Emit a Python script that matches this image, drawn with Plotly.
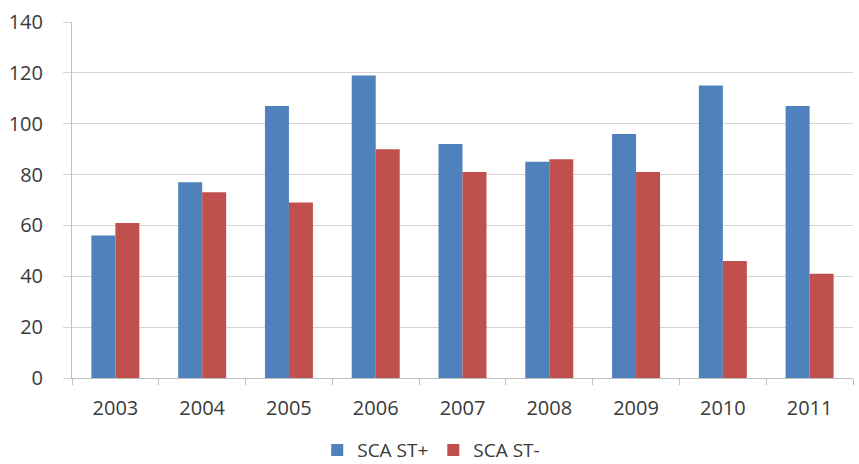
import plotly.graph_objects as go

# Yearly counts for the two groups
years = ["2003", "2004", "2005", "2006", "2007", "2008", "2009", "2010", "2011"]
sca_st_plus = [56, 77, 107, 119, 92, 85, 96, 115, 107]
sca_st_minus = [61, 73, 69, 90, 81, 86, 81, 46, 41]
y_ticks = [0, 20, 40, 60, 80, 100, 120, 140]

BLUE = "#4F81BD"
RED = "#C0504D"
TEXT = "#3A3A3A"
GRID = "#D4D4D4"
FONT = "Open Sans, Liberation Sans, sans-serif"

fig = go.Figure()
fig.add_trace(go.Bar(x=years, y=sca_st_plus, name="SCA ST+",
                     marker=dict(color=BLUE, line=dict(width=0))))
fig.add_trace(go.Bar(x=years, y=sca_st_minus, name="SCA ST-",
                     marker=dict(color=RED, line=dict(width=0))))

fig.update_layout(
    width=859, height=464,
    margin=dict(l=72, r=6, t=22, b=86, autoexpand=False),
    paper_bgcolor="white", plot_bgcolor="white",
    barmode="group", bargap=0.447, bargroupgap=0,
    font=dict(family=FONT, size=20, color=TEXT),
    showlegend=True,
    legend=dict(orientation="h",
                xref="container", x=0.502, xanchor="center",
                yref="container", y=0.03, yanchor="middle",
                font=dict(family=FONT, size=19, color=TEXT),
                itemwidth=30, traceorder="normal",
                bgcolor="rgba(0,0,0,0)"),
)
fig.update_xaxes(
    type="category", showgrid=False,
    showline=True, linecolor="#BFBFBF", linewidth=1,
    ticks="outside", tickson="boundaries", ticklen=6, tickcolor="#BFBFBF",
    ticklabelstandoff=12,
    tickfont=dict(family=FONT, size=20, color=TEXT),
)
fig.update_yaxes(
    range=[0, 140], tickvals=y_ticks,
    showgrid=True, gridcolor=GRID, gridwidth=1,
    showline=True, linecolor="#BFBFBF", linewidth=1,
    ticks="outside", ticklen=8, tickcolor=GRID,
    ticklabelstandoff=16,
    tickfont=dict(family=FONT, size=20, color=TEXT),
    zeroline=False,
)

fig.write_html("out.html")
